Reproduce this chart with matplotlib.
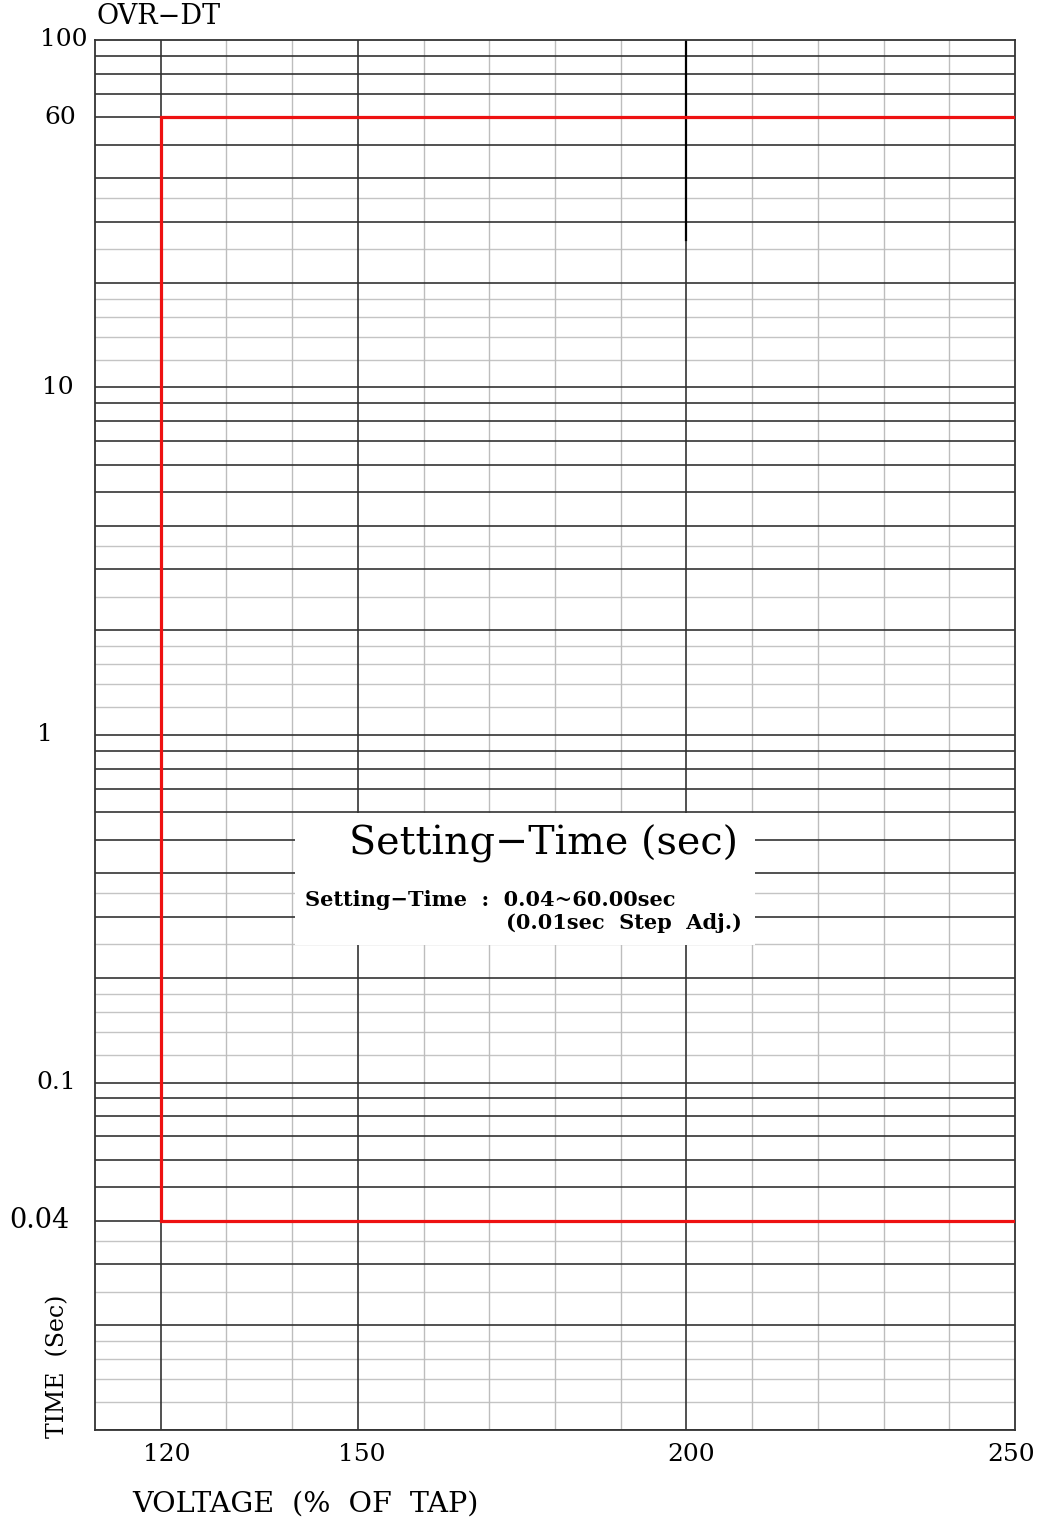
import numpy as np
import matplotlib
matplotlib.use("Agg")
import matplotlib.pyplot as plt
from matplotlib.patches import Rectangle
from matplotlib.transforms import blended_transform_factory, ScaledTranslation

plt.rcParams['font.family'] = ['DejaVu Serif']

# Axe X (tension, % du tap)
x_min, x_max = 110, 250
x_dark = [120, 150, 200]
x_light = [130, 140, 160, 170, 180, 190, 210, 220, 230, 240]
x_ticks = [120, 150, 200, 250]

# Axe Y (temps, log)
y_min, y_max = 0.01, 100
decades = [0.01, 0.1, 1, 10]
mult_dark = [1, 2, 3, 4, 5, 6, 7, 8, 9]
mult_light = [1.2, 1.4, 1.6, 1.8, 2.5, 3.5]
y_labels = ["100", "60", "10", "1", "0.1", "0.04"]
y_label_vals = [100, 60, 10, 1, 0.1, 0.04]

# Courbe définie (temps fixe)
pickup = 120
t_min, t_max = 0.04, 60

fig = plt.figure(figsize=(10.47, 15.20), dpi=100)
ax = fig.add_axes([0.0907, 0.0592, 0.8787, 0.9145])
ax.set_yscale("log")
ax.set_xlim(x_min, x_max)
ax.set_ylim(y_min, y_max)

# Quadrillage
for d in decades:
    for m in mult_light:
        ax.axhline(d * m, color="#c4c4c4", lw=1.0, zorder=1)
    for m in mult_dark:
        ax.axhline(d * m, color="#333333", lw=1.2, zorder=1.5)
for x in x_light:
    ax.axvline(x, color="#bdbdbd", lw=1.0, zorder=1)
for x in x_dark:
    ax.axvline(x, color="#333333", lw=1.2, zorder=1.5)
# trait renforcé en haut de 200%
ax.plot([200, 200], [26.5, 100], color="black", lw=1.6, zorder=1.6)

for s in ax.spines.values():
    s.set_color("#333333")
    s.set_linewidth(1.3)

# Encadré de texte
ax.add_patch(Rectangle((140.5, 0.248), 70, 0.597 - 0.248,
                       facecolor="white", edgecolor="none", zorder=3))
ax.text(178.2, 0.485, "Setting\u2212Time (sec)", fontsize=28.5,
        ha="center", va="center", zorder=5)
ax.text(142.0, 0.334, "Setting\u2212Time  :  0.04~60.00sec", fontsize=15,
        fontweight="bold", ha="left", va="center", zorder=5)
ax.text(208.5, 0.287, "(0.01sec  Step  Adj.)", fontsize=15,
        fontweight="bold", ha="right", va="center", zorder=5)

# Caractéristique temps défini
ax.plot([x_max, pickup, pickup, x_max], [t_max, t_max, t_min, t_min],
        color="#ee1111", lw=2.3, zorder=4, solid_joinstyle="miter")

# Graduations
ax.set_xticks(x_ticks)
ax.set_xticklabels([str(v) for v in x_ticks], fontsize=18)
ax.tick_params(axis="x", length=0, pad=9)
x_label_dx = [6, 4, 5, -4]
for lab, dx in zip(ax.get_xticklabels(), x_label_dx):
    lab.set_transform(lab.get_transform() + ScaledTranslation(dx / 100, 0, fig.dpi_scale_trans))
ax.set_yticks([])
ax.set_yticks([], minor=True)

trans = blended_transform_factory(fig.transFigure, ax.transData)
y_label_x = [0.038, 0.042, 0.040, 0.035, 0.035, 0.009]
y_label_fs = [18, 18, 18, 18, 18, 19.5]
for lab, v, xp, fs in zip(y_labels, y_label_vals, y_label_x, y_label_fs):
    ax.text(xp, v, lab, transform=trans, fontsize=fs, ha="left", va="center")

fig.text(0.092, 0.989, "OVR\u2212DT", fontsize=19.5, ha="left", va="center")
fig.text(0.055, 0.101, "TIME  (Sec)", fontsize=17, rotation=90,
         ha="center", va="center")
fig.text(0.126, 0.0105, "VOLTAGE  (%  OF  TAP)", fontsize=20.5,
         ha="left", va="center")

fig.savefig("out.png", dpi=100)
